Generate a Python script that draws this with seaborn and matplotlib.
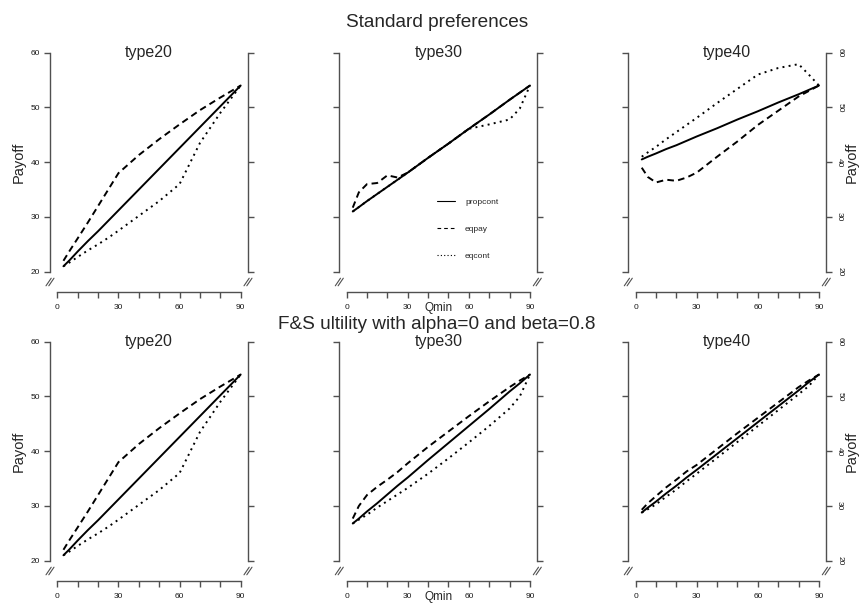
import pandas as pd
import matplotlib
matplotlib.use("Agg")
import matplotlib.pyplot as plt
from matplotlib.lines import Line2D
import seaborn as sns

# Qmin grid shared by every line
qmin = [3, 6, 10, 15, 20, 25, 30, 40, 50, 60, 70, 80, 85, 90]

# Standard preferences
std20_propcont = [21.0, 22.1, 23.7, 25.6, 27.4, 29.3, 31.2, 35.0, 38.8, 42.6, 46.4, 50.2, 52.1, 54.0]
std20_eqpay = [22.0, 23.8, 26.1, 29.0, 32.0, 35.0, 38.0, 41.3, 44.2, 46.9, 49.5, 51.8, 52.9, 54.0]
std20_eqcont = [21.0, 21.7, 22.7, 23.9, 25.0, 26.2, 27.5, 30.2, 32.9, 36.0, 43.5, 49.0, 51.5, 54.0]

std30_propcont = [31.0, 31.8, 32.9, 34.2, 35.5, 36.8, 38.1, 40.8, 43.4, 46.1, 48.7, 51.4, 52.7, 54.0]
std30_eqpay = [31.7, 34.5, 36.0, 36.2, 37.6, 37.2, 38.1, 40.8, 43.4, 46.1, 48.7, 51.4, 52.7, 54.0]
std30_eqcont = [31.0, 31.8, 32.9, 34.2, 35.5, 36.8, 38.1, 40.8, 43.4, 46.1, 46.9, 47.8, 49.8, 54.0]

std40_propcont = [40.5, 41.0, 41.6, 42.4, 43.1, 43.9, 44.7, 46.2, 47.8, 49.3, 50.9, 52.4, 53.2, 54.0]
std40_eqpay = [39.0, 37.3, 36.3, 36.8, 36.6, 37.2, 38.1, 41.0, 43.8, 46.8, 49.4, 52.0, 53.0, 54.0]
std40_eqcont = [41.0, 41.8, 42.8, 44.2, 45.5, 46.8, 48.1, 50.8, 53.4, 56.0, 57.2, 57.9, 56.0, 54.0]

# F&S utility, alpha=0, beta=0.8 (type20 is unchanged)
fs20_propcont = std20_propcont
fs20_eqpay = std20_eqpay
fs20_eqcont = std20_eqcont

fs30_propcont = [26.8, 27.7, 29.0, 30.5, 32.1, 33.7, 35.2, 38.4, 41.5, 44.6, 47.7, 50.9, 52.4, 54.0]
fs30_eqpay = [27.7, 30.0, 32.0, 33.5, 34.8, 36.2, 37.8, 40.8, 43.6, 46.4, 49.1, 51.7, 52.9, 54.0]
fs30_eqcont = [26.8, 27.5, 28.4, 29.7, 30.9, 32.1, 33.3, 35.9, 38.7, 41.6, 44.6, 47.8, 50.0, 54.0]

fs40_propcont = [28.8, 29.7, 30.8, 32.3, 33.7, 35.2, 36.6, 39.5, 42.4, 45.3, 48.2, 51.1, 52.6, 54.0]
fs40_eqpay = [29.3, 30.5, 31.8, 33.4, 34.8, 36.3, 37.5, 40.4, 43.3, 46.1, 48.9, 51.7, 52.9, 54.0]
fs40_eqcont = [28.8, 29.4, 30.3, 31.7, 33.0, 34.5, 35.9, 38.8, 41.7, 44.6, 47.5, 50.4, 51.9, 54.0]

rules = ["propcont", "eqpay", "eqcont"]
types = ["type20", "type30", "type40"]
row_titles = ["Standard preferences", "F&S ultility with alpha=0 and beta=0.8"]

values = {
    (0, "type20"): (std20_propcont, std20_eqpay, std20_eqcont),
    (0, "type30"): (std30_propcont, std30_eqpay, std30_eqcont),
    (0, "type40"): (std40_propcont, std40_eqpay, std40_eqcont),
    (1, "type20"): (fs20_propcont, fs20_eqpay, fs20_eqcont),
    (1, "type30"): (fs30_propcont, fs30_eqpay, fs30_eqcont),
    (1, "type40"): (fs40_propcont, fs40_eqpay, fs40_eqcont),
}

yticks = [20, 30, 40, 50, 60]
xticks = [0, 10, 20, 30, 40, 50, 60, 70, 80, 90]
xtick_labels = ["0", "", "", "30", "", "", "60", "", "", "90"]

frames = []
for (r, t), series in values.items():
    for rule, ys in zip(rules, series):
        frames.append(pd.DataFrame({"row": r, "type": t, "rule": rule, "qmin": qmin, "payoff": ys}))
df = pd.concat(frames, ignore_index=True)

sns.set_theme(style="ticks")
plt.rcParams["font.family"] = ["Liberation Sans", "DejaVu Sans"]

spine_col = "#505050"
dash_map = {"propcont": "", "eqpay": (3.4, 2.2), "eqcont": (1, 2.2)}

W, H = 860, 603
fig = plt.figure(figsize=(8.6, 6.03), dpi=100)
lefts = [50, 339.3, 628.3]
tops = [43.9, 332.9]
aw, ah = 198, 236.6


def axis_breaks(ax, xfrac):
    # little "//" marks under the y axis, like plotrix axis.break
    px, py = 1 / aw, 1 / ah
    cy = -1.5 * py
    for off in (-1.4, 1.4):
        ax.plot([xfrac + (off - 2.6) * px, xfrac + (off + 2.6) * px],
                [cy - 3.8 * py, cy + 3.8 * py], transform=ax.transAxes,
                color=spine_col, lw=0.8, clip_on=False)


for r in range(2):
    for c, t in enumerate(types):
        ax = fig.add_axes([lefts[c] / W, 1 - (tops[r] + ah) / H, aw / W, ah / H])
        sub = df[(df["row"] == r) & (df["type"] == t)]
        sns.lineplot(data=sub, x="qmin", y="payoff", style="rule", style_order=rules,
                     dashes=dash_map, color="black", lw=1.4, legend=False,
                     estimator=None, sort=False, ax=ax)
        ax.set_xlim(-3.6, 93.6)
        ax.set_ylim(18.4, 61.6)

        ax.spines["top"].set_visible(False)
        for s in ["left", "right", "bottom"]:
            ax.spines[s].set_visible(True)
            ax.spines[s].set_color(spine_col)
            ax.spines[s].set_linewidth(1.0)
        ax.spines["left"].set_bounds(20, 60)
        ax.spines["right"].set_bounds(20, 60)
        ax.spines["bottom"].set_bounds(0, 90)
        ax.spines["bottom"].set_position(("outward", 8.3))

        ax.set_xticks(xticks)
        ax.set_xticklabels(xtick_labels)
        ax.set_yticks(yticks)
        ax.tick_params(axis="both", length=4.3, width=1.0, color=spine_col,
                       labelsize=6, labelcolor="#1a1a1a")
        ax.tick_params(axis="x", pad=4.2)
        ax.tick_params(axis="y", left=True, right=True, labelleft=(c == 0),
                       labelright=(c == 2), pad=2.8)
        for tk in ax.yaxis.get_major_ticks():
            tk.label2.set_rotation(-90)
            tk.label2.set_va("center")
            tk.label2.set_ha("left")

        if c == 0:
            ax.set_ylabel("Payoff", fontsize=10.5)
            ax.yaxis.label.set_va("center")
            ax.yaxis.set_label_coords(-0.16, 0.5)
        elif c == 2:
            ax.yaxis.set_label_position("right")
            ax.set_ylabel("Payoff", fontsize=10.5, rotation=90)
            ax.yaxis.label.set_va("center")
            ax.yaxis.set_label_coords(1.128, 0.5)
        else:
            ax.set_ylabel("")

        if c == 1:
            ax.set_xlabel("Qmin", fontsize=8.5)
            ax.xaxis.set_label_coords(0.5, -0.092)
        else:
            ax.set_xlabel("")

        ax.text(0.5, 0.945, t, transform=ax.transAxes, ha="center", va="baseline", fontsize=11.5)
        axis_breaks(ax, 0.0)
        axis_breaks(ax, 1.0)

        if r == 0 and c == 1:
            handles = [
                Line2D([], [], color="black", lw=0.8, linestyle="-"),
                Line2D([], [], color="black", lw=0.8, linestyle=(0, (3.3, 2.7))),
                Line2D([], [], color="black", lw=0.8, linestyle=(0, (1, 2))),
            ]
            ax.legend(handles, rules, frameon=False, fontsize=6, handlelength=2.2,
                      handletextpad=1.2, labelspacing=2.3, loc="upper left",
                      bbox_to_anchor=(0.492, 0.347), borderpad=0, borderaxespad=0)

fig.text(437 / W, 1 - 26.7 / H, row_titles[0], ha="center", va="baseline", fontsize=13.7)
fig.text(437 / W, 1 - 329.3 / H, row_titles[1], ha="center", va="baseline", fontsize=13.7)

fig.savefig("out.png", dpi=100)
plt.close(fig)
